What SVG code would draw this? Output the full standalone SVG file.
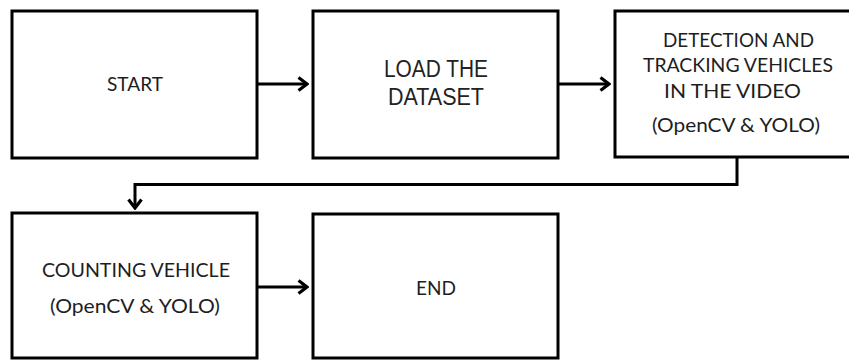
<svg xmlns="http://www.w3.org/2000/svg" width="849" height="360" viewBox="0 0 849 360">
  <style>
    .box { fill: #ffffff; stroke: #000000; stroke-width: 3; }
    .lbl { font-family: Lato, "Open Sans", "Liberation Sans", sans-serif; font-size: 20px; fill: #1e1e1e; text-anchor: middle; }
    .narrow { font-family: "Liberation Sans", Arial, sans-serif; font-size: 23px; fill: #222222; text-anchor: middle; }
    .wire { fill: none; stroke: #000000; stroke-width: 3; }
  </style>
  <defs>
    <marker id="chev" viewBox="0 0 12 16" refX="10" refY="8" markerWidth="12" markerHeight="16" markerUnits="userSpaceOnUse" orient="auto">
      <path d="M1.5,1.5 L10,8 L1.5,14.5" fill="none" stroke="#000000" stroke-width="3.2" stroke-linejoin="miter"/>
    </marker>
  </defs>
  <rect width="849" height="360" fill="#ffffff"/>

  <g id="connectors">
    <line class="wire" x1="257" y1="84" x2="307" y2="84" marker-end="url(#chev)"/>
    <line class="wire" x1="558" y1="84" x2="609" y2="84" marker-end="url(#chev)"/>
    <polyline class="wire" points="737,157 737,184.5 135,184.5 135,208" marker-end="url(#chev)"/>
    <line class="wire" x1="257" y1="287" x2="307" y2="287" marker-end="url(#chev)"/>
  </g>

  <g id="start">
    <rect class="box" x="12" y="11" width="245" height="147"/>
    <text class="lbl" x="135" y="91" textLength="56" lengthAdjust="spacingAndGlyphs">START</text>
  </g>

  <g id="load-dataset">
    <rect class="box" x="313" y="11" width="245" height="147"/>
    <text class="narrow" x="436" y="77" textLength="104" lengthAdjust="spacingAndGlyphs">LOAD THE</text>
    <text class="narrow" x="436" y="105" textLength="96" lengthAdjust="spacingAndGlyphs">DATASET</text>
  </g>

  <g id="detect-track">
    <rect class="box" x="615" y="11" width="247" height="146"/>
    <text class="lbl" x="738.5" y="47" textLength="151" lengthAdjust="spacingAndGlyphs">DETECTION AND</text>
    <text class="lbl" x="738" y="72" textLength="190" lengthAdjust="spacingAndGlyphs">TRACKING VEHICLES</text>
    <text class="lbl" x="732.5" y="98" textLength="137" lengthAdjust="spacingAndGlyphs">IN THE VIDEO</text>
    <text class="lbl" x="736" y="132" textLength="168" lengthAdjust="spacingAndGlyphs">(OpenCV &amp; YOLO)</text>
  </g>

  <g id="counting">
    <rect class="box" x="12" y="213" width="245" height="145"/>
    <text class="lbl" x="136" y="277" textLength="188" lengthAdjust="spacingAndGlyphs">COUNTING VEHICLE</text>
    <text class="lbl" x="135" y="313" textLength="170" lengthAdjust="spacingAndGlyphs">(OpenCV &amp; YOLO)</text>
  </g>

  <g id="end">
    <rect class="box" x="313" y="214" width="245" height="144"/>
    <text class="lbl" x="436" y="295" textLength="40" lengthAdjust="spacingAndGlyphs">END</text>
  </g>
</svg>
